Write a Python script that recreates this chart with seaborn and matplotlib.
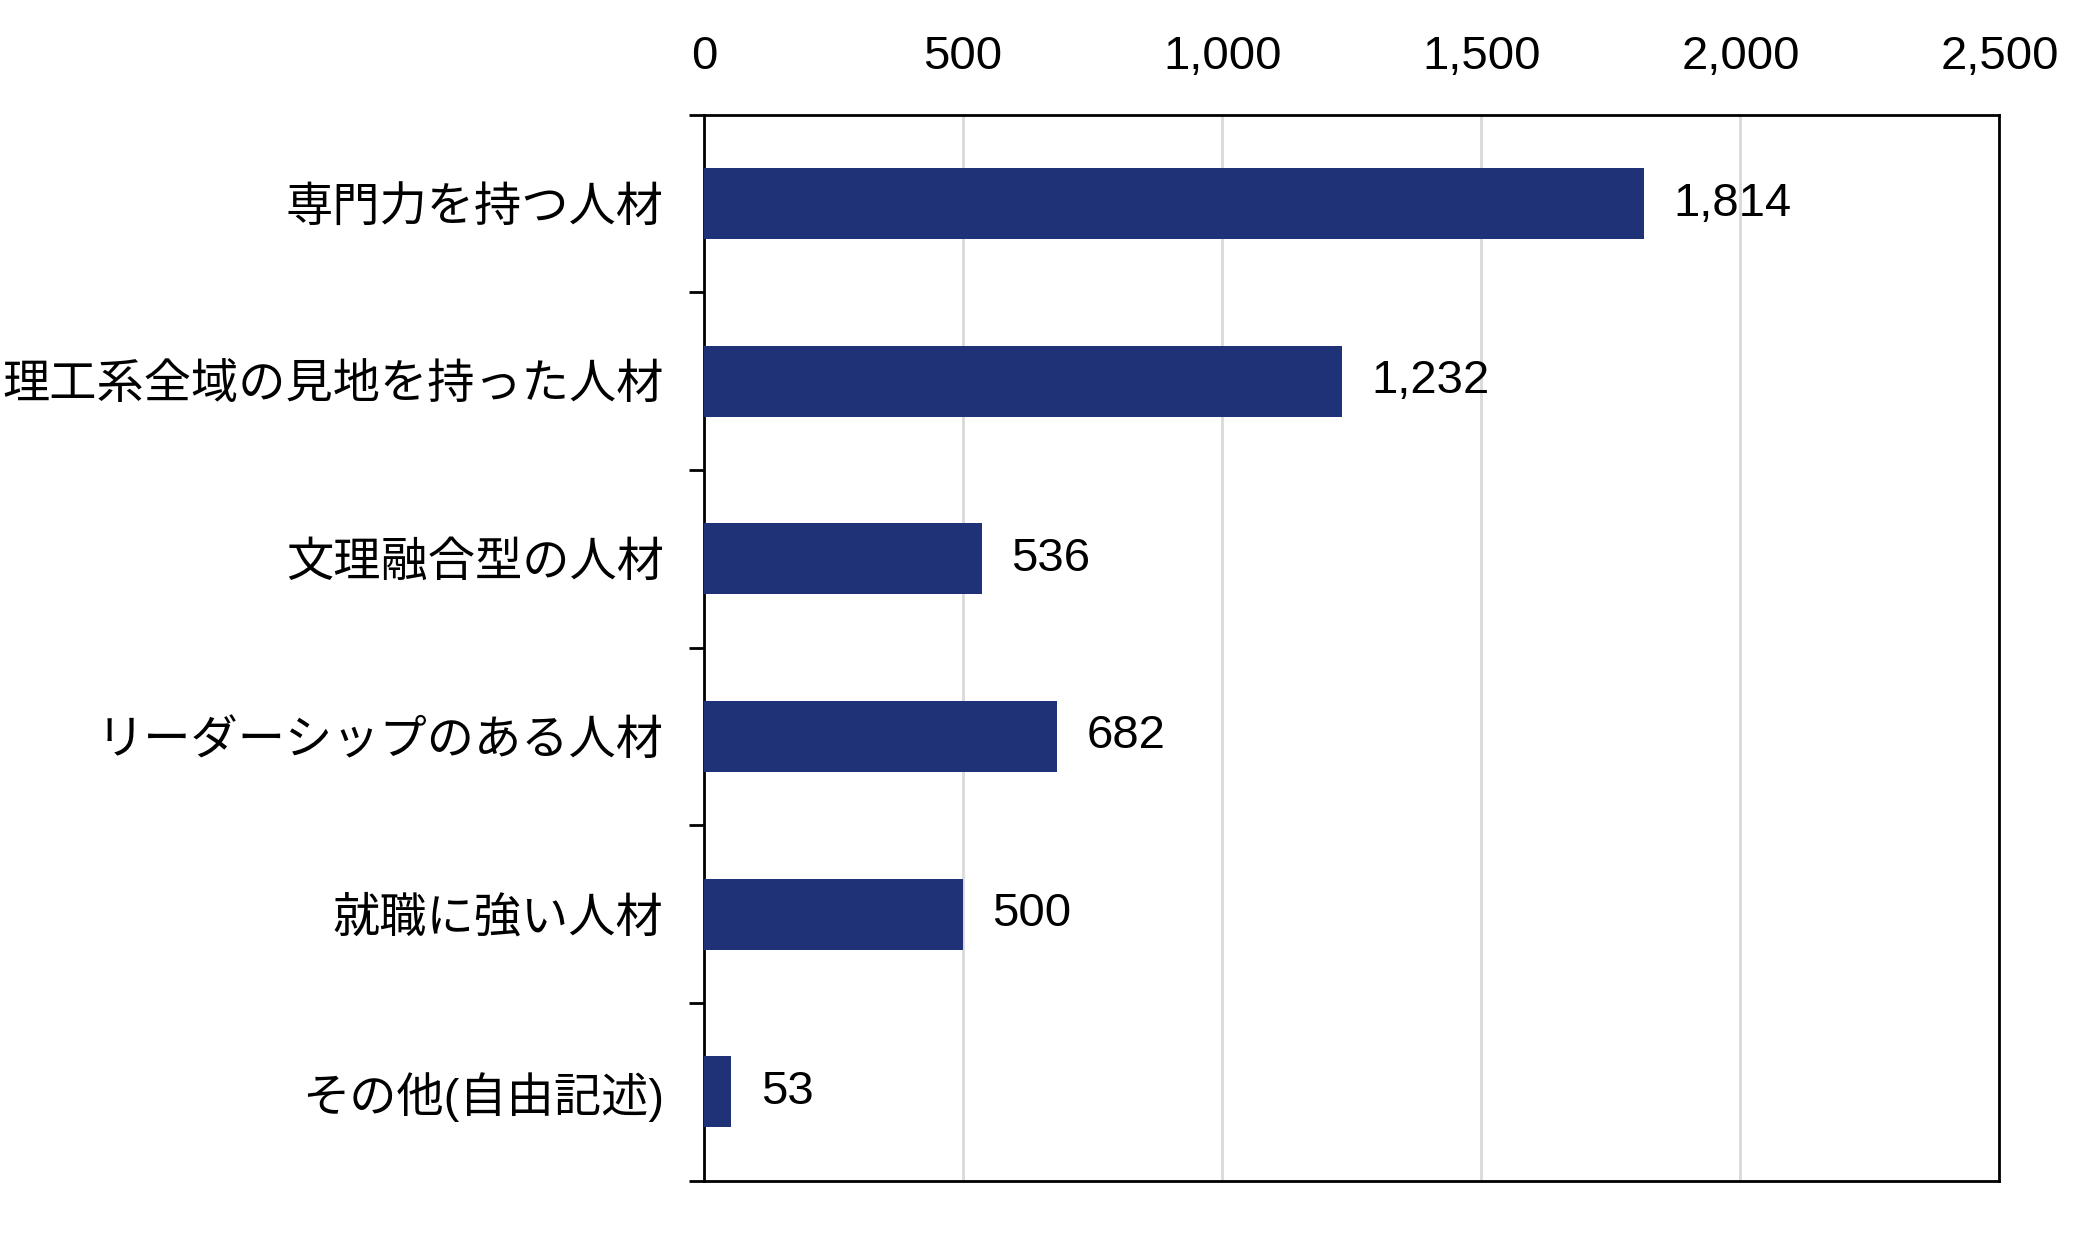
import matplotlib
matplotlib.use("Agg")
import matplotlib.pyplot as plt
import seaborn as sns
import pandas as pd
from matplotlib.ticker import FixedLocator, FuncFormatter

categories = ["専門力を持つ人材", "理工系全域の見地を持った人材", "文理融合型の人材",
              "リーダーシップのある人材", "就職に強い人材", "その他(自由記述)"]
counts = [1814, 1232, 536, 682, 500, 53]
x_ticks = [0, 500, 1000, 1500, 2000, 2500]

df = pd.DataFrame({"category": categories, "count": counts})

sns.set_style("white")
plt.rcParams["font.family"] = ["Liberation Sans", "Noto Sans CJK JP", "DejaVu Sans"]

fig = plt.figure(figsize=(20.97, 12.34), dpi=100)
# axes box in figure fractions
ax = fig.add_axes([0.3357, 0.0433, 0.9535 - 0.3357, 0.907 - 0.0433])

sns.barplot(data=df, x="count", y="category", orient="h", color="#1F3277",
            width=0.4, saturation=1, linewidth=0, ax=ax, zorder=3)

ax.set_xlim(0, 2500)
ax.set_ylim(5.5, -0.5)
ax.set_xticks(x_ticks)
ax.xaxis.set_major_formatter(FuncFormatter(lambda v, p: f"{int(v):,}"))
ax.xaxis.tick_top()
ax.tick_params(axis="x", length=0, pad=26, labelsize=34, colors="black")
ax.tick_params(axis="y", which="major", length=0, pad=29, labelsize=34, colors="black")
# small ticks between the categories
ax.yaxis.set_minor_locator(FixedLocator([i - 0.5 for i in range(len(categories) + 1)]))
ax.tick_params(axis="y", which="minor", left=True, length=11, width=2, color="black")
ax.set_xlabel("")
ax.set_ylabel("")

ax.grid(axis="x", color="#D9D9D9", linewidth=2, zorder=0)
ax.set_axisbelow(True)
for s in ax.spines.values():
    s.set_visible(True)
    s.set_color("black")
    s.set_linewidth(2)

ax.bar_label(ax.containers[0], labels=[f"{v:,}" for v in counts],
             padding=21, fontsize=34, color="black")

fig.savefig("out.png", dpi=100)
